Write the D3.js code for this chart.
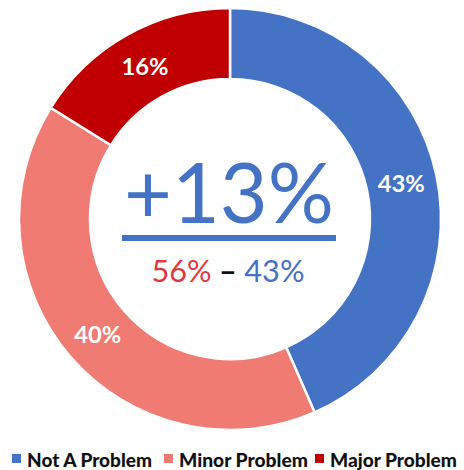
<!DOCTYPE html>
<html>
<head>
<meta charset="utf-8">
<script src="https://cdn.jsdelivr.net/npm/d3@7"></script>
<style>
  html, body { margin: 0; padding: 0; background: #fff; }
  svg { display: block; }
</style>
</head>
<body>
<svg id="chart" width="464" height="470"></svg>
<script>
const categories = ["Not A Problem", "Minor Problem", "Major Problem"];
const values = [43, 40, 16];
const labels = ["43%", "40%", "16%"];
const colors = ["#4472C4", "#EF7B73", "#C00000"];
const headline = "+13%";
const diffParts = [
  { text: "56%", color: "#E0393E" },
  { text: " \u2013 ", color: "#111111" },
  { text: "43%", color: "#4472C4" }
];

const svg = d3.select("#chart");
const cx = 230, cy = 219, R = 211, r = 140;
const font = "Lato, 'Open Sans', sans-serif";

function fitWidth(sel, base, target) {
  const w = sel.node().getComputedTextLength();
  sel.attr("font-size", base * target / w);
}

const pie = d3.pie().sort(null).value(d => d)(values);
const arc = d3.arc().innerRadius(r).outerRadius(R);
const labelArc = d3.arc().innerRadius(175).outerRadius(175);

const g = svg.append("g").attr("transform", `translate(${cx},${cy})`);
g.selectAll("path.slice").data(pie).join("path")
  .attr("class", "slice")
  .attr("d", arc)
  .attr("fill", (d, i) => colors[i])
  .attr("stroke", "#fff")
  .attr("stroke-width", 2.5);

g.selectAll("text.lbl").data(pie).join("text")
  .attr("class", "lbl")
  .attr("transform", d => `translate(${labelArc.centroid(d)})`)
  .attr("text-anchor", "middle")
  .attr("dominant-baseline", "central")
  .attr("font-family", font)
  .attr("font-weight", 700)
  .attr("font-size", 20)
  .attr("fill", "#fff")
  .text((d, i) => labels[i])
  .each(function() { fitWidth(d3.select(this), 20, 47); });

// Headline
const h = svg.append("text")
  .attr("x", 229).attr("y", 223)
  .attr("text-anchor", "middle")
  .attr("font-family", font)
  .attr("font-size", 80)
  .attr("fill", "#4472C4")
  .text(headline);
fitWidth(h, 80, 210);

svg.append("rect")
  .attr("x", 122).attr("y", 235).attr("width", 214).attr("height", 6)
  .attr("fill", "#4472C4");

const sub = svg.append("text")
  .attr("x", 228).attr("y", 282)
  .attr("text-anchor", "middle")
  .attr("font-family", font)
  .attr("font-size", 28);
sub.selectAll("tspan").data(diffParts).join("tspan")
  .attr("fill", d => d.color)
  .attr("font-weight", (d, i) => i === 1 ? 700 : 400)
  .text(d => d.text);
fitWidth(sub, 28, 153);

// Legend
const legend = svg.append("g").attr("transform", "translate(0,459)");
const legendX = [12, 164, 315];
const legendW = [125, 129, 127];
categories.forEach((c, i) => {
  const lg = legend.append("g").attr("transform", `translate(${legendX[i]},0)`);
  lg.append("rect").attr("x", 0).attr("y", -5).attr("width", 9).attr("height", 9).attr("fill", colors[i]);
  const t = lg.append("text").attr("x", 15).attr("y", 0)
    .attr("dominant-baseline", "central")
    .attr("font-family", font).attr("font-weight", 900).attr("font-size", 17)
    .attr("fill", "#111")
    .text(c);
  fitWidth(t, 17, legendW[i]);
});
</script>
</body>
</html>
